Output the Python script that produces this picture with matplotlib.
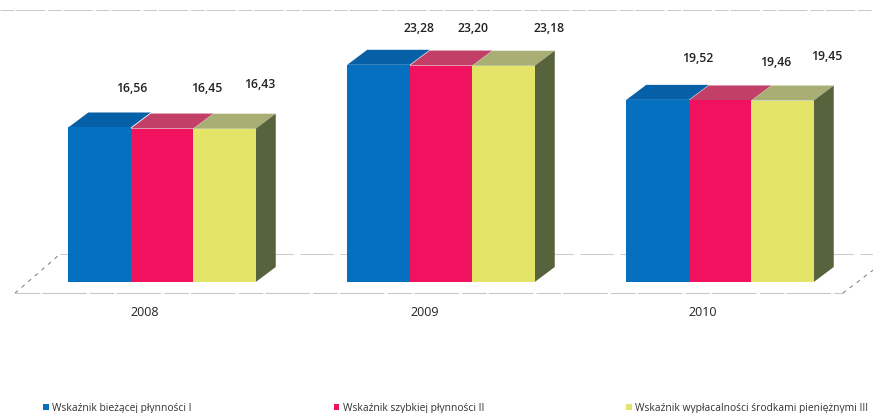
import matplotlib
matplotlib.use("Agg")
import matplotlib.pyplot as plt
from matplotlib.patches import Polygon
import numpy as np

years = ["2008", "2009", "2010"]
names = ["Wskaźnik bieżącej płynności I", "Wskaźnik szybkiej płynności II",
         "Wskaźnik wypłacalności środkami pieniężnymi III"]
wsk1 = [16.56, 23.28, 19.52]
wsk2 = [16.45, 23.20, 19.46]
wsk3 = [16.43, 23.18, 19.45]

front = ["#0570c0", "#f0125f", "#e4e468"]
top = ["#0560a8", "#c23f68", "#a9af74"]
side = "#56633c"

W, H = 873, 413
GROUP_PX = 279.0
UNIT_PX = 9.33
x0_px, y0_px = 162.0, 282.0

plt.rcParams['font.family'] = ['Open Sans', 'DejaVu Sans']
fig = plt.figure(figsize=(W / 100, H / 100), dpi=100)
ax = fig.add_axes([0, 0, 1, 1])
ax.set_xlim(-x0_px / GROUP_PX, (W - x0_px) / GROUP_PX)
ax.set_ylim(-(H - y0_px) / UNIT_PX, y0_px / UNIT_PX)
ax.axis("off")

bw = 62.5 / GROUP_PX
dx = 20 / GROUP_PX
dy = 15 / UNIT_PX
x = np.arange(3)
series = [wsk1, wsk2, wsk3]

# walls / floor, rough dashed lines like the scan
ax.plot([-0.58, 2.55], [29.2, 29.2], color="#c8c8c8", lw=0.7, ls=(0, (14, 2, 30, 3)), zorder=1)
ax.plot([-0.365, 2.55], [3.0, 3.0], color="#cccccc", lw=0.8, ls=(0, (30, 6)), zorder=1)
ax.plot([-0.527, 2.44], [-1.2, -1.2], color="#c8c8c8", lw=0.8, ls=(0, (22, 2, 40, 3)), zorder=1)
ax.plot([-0.527, -0.365], [-1.2, 3.0], color="#777777", lw=0.7, ls=(0, (4, 5)), zorder=1)
ax.plot([2.44, 2.55], [-1.2, 1.3], color="#777777", lw=0.7, ls=(0, (4, 5)), zorder=1)

for i, vals in enumerate(series):
    left = x + (i - 1.5) * bw
    ax.bar(left, vals, bw, align="edge", color=front[i], label=names[i], zorder=3)
    for l, v in zip(left, vals):
        ax.add_patch(Polygon([(l, v), (l + bw, v), (l + bw + dx, v + dy), (l + dx, v + dy)],
                             closed=True, fc=top[i], ec="none", zorder=2))
for j in x:
    r = j + 1.5 * bw
    v = series[2][j]
    ax.add_patch(Polygon([(r, 0), (r + dx, dy), (r + dx, v + dy), (r, v)],
                         closed=True, fc=side, ec="none", zorder=2))

# value labels sit at scattered spots in the original
label_px = [[(132, 88), (207, 88), (260, 85)],
            [(419, 29), (473, 29), (549, 29)],
            [(698, 59), (776, 62), (827, 56)]]
for j in x:
    for i in range(3):
        px, py = label_px[j][i]
        txt = ("%.2f" % series[i][j]).replace(".", ",")
        ax.annotate(txt, xy=(px / W, 1 - py / H), xycoords="axes fraction", ha="center",
                    va="center", fontsize=8.8, fontweight="semibold", color="#222222")

for j, (y, px) in enumerate(zip(years, [145, 425, 703])):
    ax.annotate(y, xy=(px / W, 1 - 312 / H), xycoords="axes fraction", ha="center",
                va="center", fontsize=9, color="#222222")

leg = ax.legend(loc="center left", bbox_to_anchor=(43 / W, 1 - 408 / H), ncol=3, frameon=False,
                fontsize=7.4, handlelength=0.55, handleheight=0.55, handletextpad=0.35,
                columnspacing=13.8, borderpad=0, borderaxespad=0)
for t in leg.get_texts():
    t.set_color("#333333")

fig.savefig("out.png", dpi=100)
